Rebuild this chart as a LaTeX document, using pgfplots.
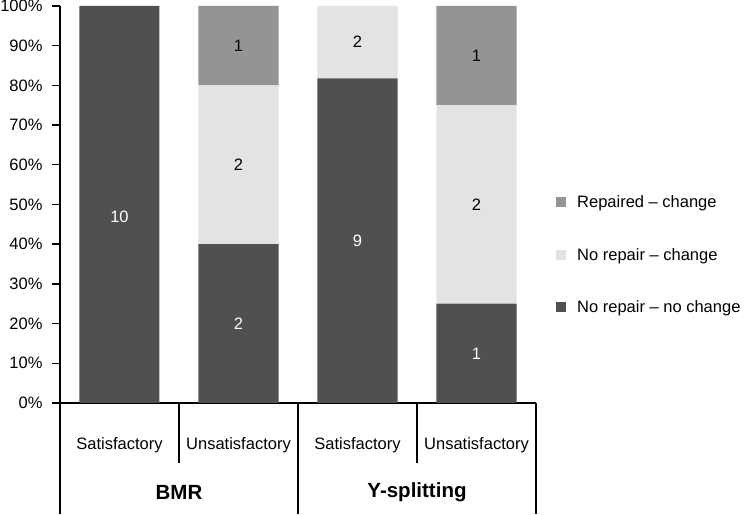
\documentclass[border=0pt]{standalone}
\usepackage{pgfplots}
\pgfplotsset{compat=1.18}
\usepackage{fontspec}
\setmainfont{Liberation Sans}
\definecolor{dark}{HTML}{505052}
\definecolor{mid}{HTML}{939496}
\definecolor{light}{HTML}{E2E3E5}
\begin{document}
\begin{tikzpicture}
\useasboundingbox (0pt,0pt) rectangle (744pt,514pt);
\begin{axis}[
 at={(60pt,111pt)}, anchor=south west,
 scale only axis, width=476pt, height=397pt,
 ybar stacked, bar width=80pt,
 xmin=-0.5, xmax=3.5, ymin=0, ymax=100,
 axis x line=bottom, axis y line=left,
 axis line style={-, line width=1.8pt, black},
 ytick={0,10,...,100},
 yticklabel={\pgfmathprintnumber{\tick}\%},
 xtick={0,1,2,3},
 xticklabels={Satisfactory,Unsatisfactory,Satisfactory,Unsatisfactory},
 tick align=outside, major tick length=8pt,
 ytick style={line width=1.4pt, black},
 xtick style={draw=none},
 tick label style={font=\fontsize{16.5}{19}\selectfont},
 /pgf/number format/assume math mode=true,
 xticklabel style={anchor=center, yshift=-34pt},
 yticklabel style={xshift=-6pt},
 clip=false,
 legend style={draw=none, fill=none, at={(1,0.373)}, anchor=west, xshift=20pt, font=\fontsize{16.5}{19}\selectfont, row sep=35pt, column sep=9pt, inner sep=0pt},
 legend cell align=left,
 reverse legend,
 legend image code/.code={\fill[#1] (0pt,-5pt) rectangle (10pt,5pt);},
]
\addplot[fill=dark, draw=none] coordinates {(0,100) (1,40) (2,81.8) (3,25)};
\addplot[fill=light, draw=none] coordinates {(0,0) (1,40) (2,18.2) (3,50)};
\addplot[fill=mid, draw=none] coordinates {(0,0) (1,20) (2,0) (3,25)};
\legend{No repair -- no change, No repair -- change, Repaired -- change}
\draw[line width=1.4pt] (axis cs:-0.5,0) -- ([yshift=-111pt]axis cs:-0.5,0);
\draw[line width=1.4pt] (axis cs:0.5,0) -- ([yshift=-60pt]axis cs:0.5,0);
\draw[line width=1.4pt] (axis cs:1.5,0) -- ([yshift=-111pt]axis cs:1.5,0);
\draw[line width=1.4pt] (axis cs:2.5,0) -- ([yshift=-60pt]axis cs:2.5,0);
\draw[line width=1.4pt] (axis cs:3.5,0) -- ([yshift=-111pt]axis cs:3.5,0);
\node[font=\bfseries\fontsize{20.5}{24}\selectfont] at ([yshift=-89pt]axis cs:0.5,0) {BMR};
\node[font=\bfseries\fontsize{20.5}{24}\selectfont] at ([yshift=-89pt]axis cs:2.5,0) {Y-splitting};
\end{axis}
\begin{axis}[
 at={(60pt,111pt)}, anchor=south west,
 scale only axis, width=476pt, height=397pt,
 xmin=-0.5, xmax=3.5, ymin=0, ymax=100,
 hide axis, clip=false,
 point meta=explicit symbolic,
 nodes near coords,
 every node near coord/.style={anchor=center, font=\fontsize{16.5}{19}\selectfont},
]
\addplot[draw=none, mark=none, every node near coord/.append style={text=white}] coordinates {(0,47) [10] (1,20) [2] (2,40.9) [9] (3,12.5) [1]};
\addplot[draw=none, mark=none, every node near coord/.append style={text=black}] coordinates {(1,60) [2] (2,90.9) [2] (3,50) [2]};
\addplot[draw=none, mark=none, every node near coord/.append style={text=black}] coordinates {(1,90) [1] (3,87.5) [1]};
\end{axis}
\end{tikzpicture}
\end{document}
